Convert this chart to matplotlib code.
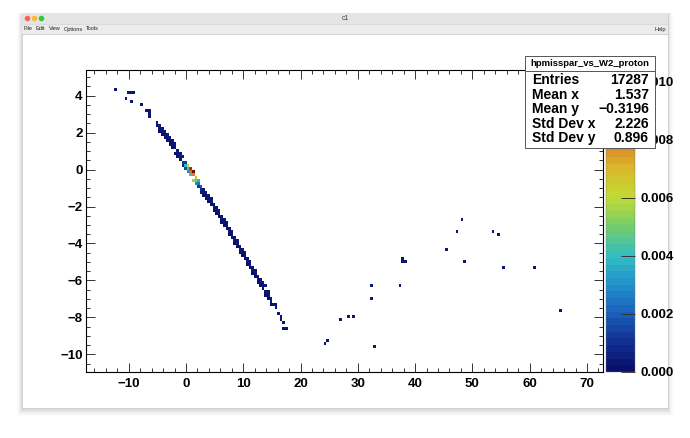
import numpy as np
import matplotlib
matplotlib.use('Agg')
import matplotlib.pyplot as plt
from matplotlib.colors import LinearSegmentedColormap
from matplotlib.patches import Rectangle, Circle
from matplotlib.ticker import MultipleLocator

plt.rcParams['font.family'] = ['Liberation Sans', 'DejaVu Sans']

### DATA
# main band: three cells per column
strip_x = [-4.6, -4.15, -3.7, -3.25, -2.8, -2.35, -1.9, -1.45, -1.0, -0.55, -0.1,
           0.35, 0.8, 1.25, 1.7, 2.15, 2.6, 3.05, 3.5, 3.95, 4.4, 4.85, 5.3, 5.75,
           6.2, 6.65, 7.1, 7.55, 8.0, 8.45, 8.9, 9.35, 9.8, 10.25, 10.7, 11.15,
           11.6, 12.05, 12.5, 12.95, 13.4, 13.85, 14.3, 14.75]
strip_y_hi = [2.42, 2.22, 2.05, 1.88, 1.72, 1.53, 1.31, 1.08, 0.86, 0.65, 0.44,
              0.25, 0.05, -0.16, -0.40, -0.62, -0.83, -1.03, -1.21, -1.38, -1.58,
              -1.83, -2.07, -2.28, -2.47, -2.67, -2.90, -3.14, -3.39, -3.63, -3.88,
              -4.10, -4.31, -4.52, -4.76, -5.01, -5.26, -5.51, -5.76, -5.97, -6.17,
              -6.38, -6.66, -6.94]
strip_y_lo = [2.25, 2.05, 1.88, 1.71, 1.55, 1.36, 1.14, 0.91, 0.69, 0.48, 0.27,
              0.08, -0.12, -0.33, -0.57, -0.79, -1.00, -1.20, -1.38, -1.55, -1.75,
              -2.00, -2.24, -2.45, -2.64, -2.84, -3.07, -3.31, -3.56, -3.80, -4.05,
              -4.27, -4.48, -4.69, -4.93, -5.18, -5.43, -5.68, -5.93, -6.14, -6.34,
              -6.55, -6.83, -7.11]
strip_y_lo2 = [2.08, 1.88, 1.71, 1.54, 1.38, 1.19, 0.97, 0.74, 0.52, 0.31, 0.10,
               -0.09, -0.29, -0.50, -0.74, -0.96, -1.17, -1.37, -1.55, -1.72, -1.92,
               -2.17, -2.41, -2.62, -2.81, -3.01, -3.24, -3.48, -3.73, -3.97, -4.22,
               -4.44, -4.65, -4.86, -5.10, -5.35, -5.60, -5.85, -6.10, -6.31, -6.51,
               -6.72, -7.00, -7.28]
strip_val_hi = [0.0003, 0.0003, 0.0004, 0.0003, 0.0003, 0.0004, 0.0003, 0.0003, 0.0004, 0.0006, 0.0012,
                0.0060, 0.0095, 0.0104, 0.0068, 0.0038, 0.0018, 0.0004, 0.0003, 0.0003, 0.0003,
                0.0003, 0.0003, 0.0003, 0.0003, 0.0003, 0.0003, 0.0003, 0.0003, 0.0003, 0.0003,
                0.0003, 0.0003, 0.0003, 0.0003, 0.0003, 0.0003, 0.0003, 0.0003, 0.0003, 0.0003,
                0.0003, 0.0003, 0.0003]
strip_val_lo = [0.0003, 0.0003, 0.0003, 0.0003, 0.0003, 0.0003, 0.0003, 0.0003, 0.0005, 0.0012, 0.0038,
                0.0045, 0.0085, 0.0080, 0.0050, 0.0025, 0.0008, 0.0003, 0.0003, 0.0003, 0.0003,
                0.0003, 0.0003, 0.0003, 0.0003, 0.0003, 0.0003, 0.0003, 0.0003, 0.0003, 0.0003,
                0.0003, 0.0003, 0.0003, 0.0003, 0.0003, 0.0003, 0.0003, 0.0003, 0.0003, 0.0003,
                0.0003, 0.0003, 0.0003]
strip_val_lo2 = [0.0002, 0.0002, 0.0002, 0.0002, 0.0002, 0.0002, 0.0002, 0.0002, 0.0003, 0.0006, 0.0016,
                 0.0030, 0.0042, 0.0055, 0.0030, 0.0012, 0.0004, 0.0002, 0.0002, 0.0002, 0.0002,
                 0.0002, 0.0002, 0.0002, 0.0002, 0.0002, 0.0002, 0.0002, 0.0002, 0.0002, 0.0002,
                 0.0002, 0.0002, 0.0002, 0.0002, 0.0002, 0.0002, 0.0002, 0.0002, 0.0002, 0.0002,
                 0.0002, 0.0002, 0.0002]

# sparse cells: end of the band, upper-left stragglers and the outliers
sparse_x = [15.2, 15.5, 15.8, 16.3, 16.4, 16.7, 16.9, 17.0, 17.57,
            -12.2, -9.9, -9.5, -8.95, -10.5, -9.5, -7.7, -6.9, -6.4, -6.4, -6.4, -5.0, -5.0, -4.5,
            48.2, 47.3, 53.6, 54.5, 45.5, 37.8, 37.8, 38.3, 48.6, 55.4, 60.9, 32.5,
            37.4, 32.5, 65.3, 28.4, 29.3, 27.0, 24.4, 24.8, 32.9]
sparse_y = [-7.2, -7.25, -7.52, -7.7, -7.89, -8.16, -8.34, -8.55, -8.64,
            4.3, 4.18, 4.09, 4.09, 3.8, 3.64, 3.46, 3.17, 3.17, 3.05, 2.83, 2.56, 2.41, 2.32,
            -2.74, -3.32, -3.32, -3.48, -4.31, -4.78, -4.96, -5.03, -5.03, -5.38, -5.28, -6.35,
            -6.35, -7.0, -7.65, -7.89, -7.98, -8.14, -9.37, -9.28, -9.6]
sparse_val = [0.0003] * len(sparse_x)

entries = 17287
mean_x, mean_y = 1.537, -0.3196
std_x, std_y = 2.226, 0.896
zmax = 0.0104

# binning of the 2D histogram
x_edges = np.linspace(-17.45, 72.8, 201)
y_edges = np.linspace(-10.96, 5.39, 101)

xs = strip_x * 3 + sparse_x
ys = strip_y_hi + strip_y_lo + strip_y_lo2 + sparse_y
ws = strip_val_hi + strip_val_lo + strip_val_lo2 + sparse_val
H, _, _ = np.histogram2d(xs, ys, bins=[x_edges, y_edges], weights=ws)
H = np.ma.masked_equal(H.T, 0)

# palette
cmap = LinearSegmentedColormap.from_list('pal', [
    (0.00, (0.04, 0.06, 0.42)),
    (0.10, (0.07, 0.20, 0.58)),
    (0.19, (0.10, 0.38, 0.74)),
    (0.29, (0.13, 0.58, 0.80)),
    (0.38, (0.20, 0.74, 0.76)),
    (0.48, (0.45, 0.80, 0.42)),
    (0.58, (0.76, 0.86, 0.20)),
    (0.68, (0.85, 0.72, 0.17)),
    (0.77, (0.85, 0.50, 0.15)),
    (0.88, (0.78, 0.30, 0.10)),
    (1.00, (0.50, 0.02, 0.02)),
], N=45)

W, Hpx = 690, 438
fig = plt.figure(figsize=(W / 100, Hpx / 100), dpi=100)
fig.patch.set_facecolor('white')

# window chrome
bg = fig.add_axes([0, 0, 1, 1], zorder=-5)
bg.set_xlim(0, W)
bg.set_ylim(Hpx, 0)
bg.axis('off')
for i, a in enumerate([0.012, 0.018, 0.025, 0.035, 0.045]):
    d = 5 - i
    bg.add_patch(Rectangle((22 - d, 13 - d * 0.4 + 2), 646 + 2 * d, 395 + d * 1.6,
                           facecolor='black', alpha=a, lw=0))
bg.add_patch(Rectangle((22, 13), 646, 395, facecolor='white', edgecolor='#c4c4c4', lw=0.5))
bg.add_patch(Rectangle((22, 13), 646, 11, facecolor='#e4e4e4', edgecolor='none'))
bg.add_patch(Rectangle((22, 24), 646, 10, facecolor='#ececec', edgecolor='none'))
bg.plot([22, 668], [24, 24], color='#d4d4d4', lw=0.5)
bg.plot([22, 668], [34, 34], color='#cacaca', lw=0.6)
for cx, col in zip([27.5, 34.5, 41.5], ['#fc5f57', '#fdbc2e', '#33c748']):
    bg.add_patch(Circle((cx, 18.5), 2.8, facecolor=col, edgecolor='none'))
bg.text(345, 18.5, 'c1', fontsize=5, ha='center', va='center', color='#404040')
for item, mx in zip(['File', 'Edit', 'View', 'Options', 'Tools'], [23, 36, 49, 64, 86]):
    bg.text(mx, 30.5, item, fontsize=4, ha='left', va='baseline', color='#202020')
bg.text(666, 30.5, 'Help', fontsize=4, ha='right', va='baseline', color='#202020')

# main frame
L, R, T, B = 86, 603, 70, 372
ax = fig.add_axes([L / W, 1 - B / Hpx, (R - L) / W, (B - T) / Hpx])
mesh = ax.pcolormesh(x_edges, y_edges, H, cmap=cmap, vmin=0, vmax=zmax)
ax.set_xlim(-17.45, 72.8)
ax.set_ylim(-10.96, 5.39)
ax.xaxis.set_major_locator(MultipleLocator(10))
ax.xaxis.set_minor_locator(MultipleLocator(2))
ax.yaxis.set_major_locator(MultipleLocator(2))
ax.yaxis.set_minor_locator(MultipleLocator(0.5))
ax.tick_params(which='both', direction='in', top=True, right=True, color='#333333', width=0.7)
ax.tick_params(which='major', length=6.5)
ax.tick_params(which='minor', length=3.2)
ax.tick_params(axis='x', pad=4)
ax.tick_params(axis='y', pad=2.5)
for lab in ax.get_xticklabels() + ax.get_yticklabels():
    lab.set_fontsize(9.5)
    lab.set_fontweight('bold')
for s in ax.spines.values():
    s.set_linewidth(0.8)

# palette axis
cax = fig.add_axes([606 / W, 1 - B / Hpx, 29 / W, (B - T) / Hpx])
cb = fig.colorbar(mesh, cax=cax)
cb.set_ticks([0, 0.002, 0.004, 0.006, 0.008, 0.010])
cb.ax.yaxis.set_major_formatter(matplotlib.ticker.FormatStrFormatter('%.3f'))
cb.outline.set_linewidth(0.3)
cb.outline.set_edgecolor('#777777')
cb.ax.tick_params(direction='in', length=10, width=0.7, color='#333333', pad=4)
for lab in cb.ax.get_yticklabels():
    lab.set_fontsize(9.5)
    lab.set_fontweight('bold')

# stats box on top (it hides part of the palette labels, as in ROOT)
top = fig.add_axes([0, 0, 1, 1], zorder=10)
top.set_xlim(0, W)
top.set_ylim(Hpx, 0)
top.axis('off')
top.patch.set_alpha(0)
top.add_patch(Rectangle((525, 56), 130, 92, facecolor='white', edgecolor='#555555', lw=0.7))
top.plot([525, 655], [71, 71], color='#555555', lw=0.7)
top.text(590, 64, 'hpmisspar_vs_W2_proton', fontsize=6.8, fontweight='bold',
         ha='center', va='center')
rows = [('Entries', f'{entries}'),
        ('Mean x', f'{mean_x:.3f}'),
        ('Mean y', f'{mean_y:.4f}'.replace('-', '\u2212')),
        ('Std Dev x', f'{std_x:.3f}'),
        ('Std Dev y', f'{std_y:.3f}')]
for i, (k, v) in enumerate(rows):
    yy = 80 + i * 14.6
    top.text(532, yy, k, fontsize=10, fontweight='bold', ha='left', va='center')
    top.text(649, yy, v, fontsize=10, fontweight='bold', ha='right', va='center')

fig.savefig('out.png', dpi=100)
